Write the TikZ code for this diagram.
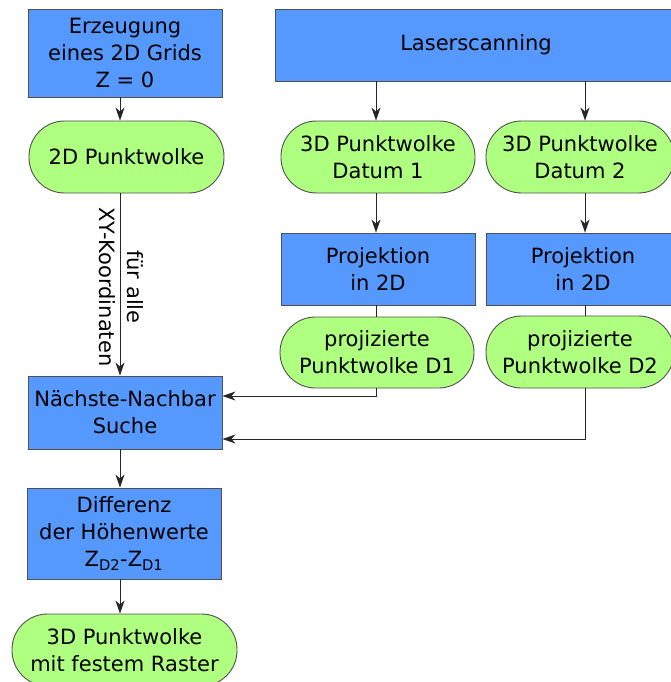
\documentclass[tikz,border=0pt]{standalone}
\usepackage{fontspec}
\setmainfont{DejaVu Sans}
\usetikzlibrary{arrows.meta,calc}
\definecolor{boxblue}{HTML}{5599FF}
\definecolor{pillgreen}{HTML}{AFFF80}
\definecolor{edgegrey}{HTML}{505050}
\begin{document}
\begin{tikzpicture}[x=1pt,y=-1pt,
  txt/.style={font=\fontsize{21}{27}\selectfont, align=center, inner sep=0pt},
  bluebox/.style={txt, rectangle, fill=boxblue, draw=edgegrey, line width=0.9pt},
  pill/.style={txt, rectangle, rounded corners=35.5pt, fill=pillgreen, draw=edgegrey, line width=0.9pt},
  conn/.style={draw=black!85, line width=0.9pt},
  arr/.style={conn, -{Stealth[length=13pt,width=9pt,inset=4pt]}}]
\useasboundingbox (0,0) rectangle (671,682);
% left column
\node[bluebox, minimum width=194pt, minimum height=88pt] (erz) at (125,53) {Erzeugung\\eines 2D Grids\\Z = 0};
\node[pill, minimum width=195pt, minimum height=72pt] (p2d) at (126.5,157) {2D Punktwolke};
\node[bluebox, minimum width=194pt, minimum height=73pt] (nn) at (125,412.5) {Nächste-Nachbar\\Suche};
\node[bluebox, minimum width=194pt, minimum height=91pt] (diff) at (124,533.5) {Differenz\\der Höhenwerte\\Z\textsubscript{D2}-Z\textsubscript{D1}};
\node[pill, minimum width=225pt, minimum height=72pt] (fin) at (124.5,650) {3D Punktwolke\\mit festem Raster};
% right part
\node[bluebox, minimum width=398pt, minimum height=72pt] (laser) at (474,45) {};
\node[txt] (lasert) at (476,45) {Laserscanning};
\node[pill, minimum width=194pt, minimum height=72pt] (d1) at (378,157) {3D Punktwolke\\Datum 1};
\node[pill, minimum width=188pt, minimum height=72pt] (d2) at (580,157) {3D Punktwolke\\Datum 2};
\node[bluebox, minimum width=194pt, minimum height=72pt] (pr1) at (378,269) {Projektion\\in 2D};
\node[bluebox, minimum width=194pt, minimum height=72pt] (pr2) at (583,269) {Projektion\\in 2D};
\node[pill, minimum width=194pt, minimum height=71pt] (pd1) at (377,352.5) {projizierte\\Punktwolke D1};
\node[pill, minimum width=188pt, minimum height=72pt] (pd2) at (580,352) {projizierte\\Punktwolke D2};
% columns
\coordinate (cL) at (120,0);
\coordinate (c1) at (376,0);
\coordinate (c2) at (585,0);
\coordinate (r1) at (0,396);
\coordinate (r2) at (0,439);
% connectors
\draw[arr] (erz.south -| cL) -- (p2d.north -| cL);
\draw[arr] (p2d.south -| cL) -- (nn.north -| cL);
\node[txt, rotate=-90, font=\fontsize{21}{28}\selectfont] (lab) at (121,287) {für alle\\XY-Koordinaten};
\draw[arr] (nn.south -| cL) -- (diff.north -| cL);
\draw[arr] (diff.south -| cL) -- (fin.north -| cL);
\draw[arr] (laser.south -| c1) -- (d1.north -| c1);
\draw[arr] (laser.south -| c2) -- (d2.north -| c2);
\draw[arr] (d1.south -| c1) -- (pr1.north -| c1);
\draw[arr] (d2.south -| c2) -- (pr2.north -| c2);
\draw[conn] (pr1.south -| c1) -- (pd1.north -| c1);
\draw[conn] (pr2.south -| c2) -- (pd2.north -| c2);
\draw[arr] (pd1.south -| c1) |- (nn.east |- r1);
\draw[arr] (pd2.south -| c2) |- (nn.east |- r2);
\end{tikzpicture}
\end{document}
